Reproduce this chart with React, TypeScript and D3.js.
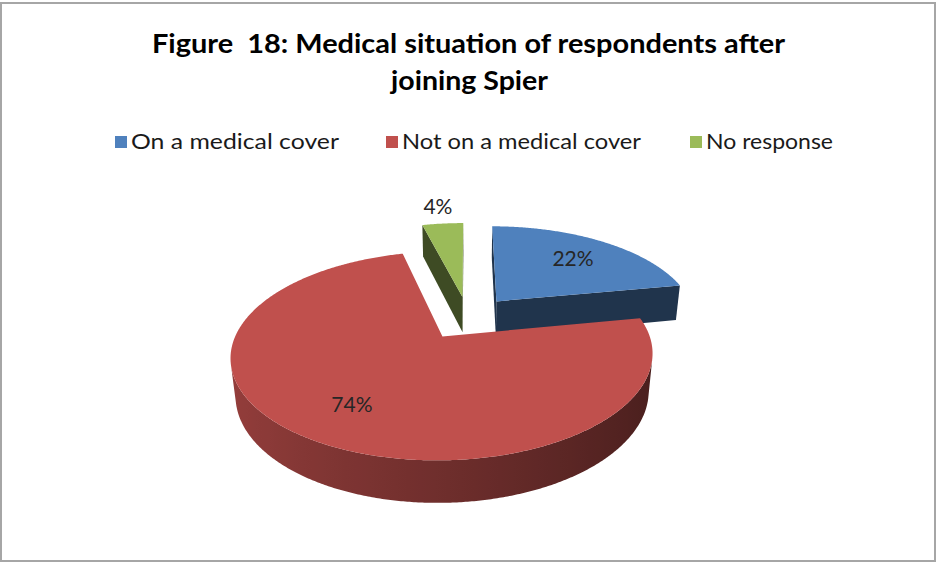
import React from "react";
import * as d3 from "d3";

const categories = ["On a medical cover", "Not on a medical cover", "No response"];
const values = [22, 74, 4];
const topColors = ["#4f81bd", "#c0504d", "#9bbb59"];
const titleLines = ["Figure  18: Medical situation of respondents after", "joining Spier"];

const W = 937;
const H = 563;

// camera / pie geometry (world units: pie radius = 1)
const cx = 468;
const cy = 317.5;
const S = 200;
const D = 4.9;
const theta = (28 * Math.PI) / 180;
const thick = 0.21;
const explode = 0.23;
const sinT = Math.sin(theta);
const cosT = Math.cos(theta);
const camera = [0, D * sinT, -D * cosT];

function project(x: number, y: number, z: number): [number, number] {
  const depth = D - y * sinT + z * cosT;
  return [cx + (S * D * x) / depth, cy - (S * D * (y * cosT + z * sinT)) / depth];
}

function visible(n: number[], p: number[]) {
  return n[0] * (camera[0] - p[0]) + n[1] * (camera[1] - p[1]) + n[2] * (camera[2] - p[2]) > 0;
}

function shade(color: string, k: number) {
  const c = d3.rgb(color);
  return d3.rgb(c.r * k, c.g * k, c.b * k).toString();
}

const poly = (pts: [number, number][]) =>
  "M" + pts.map((p) => p[0].toFixed(2) + "," + p[1].toFixed(2)).join("L") + "Z";

type Face = { d: string; fill: string; grad?: { id: string; x0: number; x1: number; stops: { o: number; c: string }[] } };

export default function App() {
  const pie = d3.pie<number>().sort(null).startAngle(0).endAngle(2 * Math.PI);
  const arcs = pie(values);

  const slices = arcs.map((a, i) => {
    const mid = (a.startAngle + a.endAngle) / 2;
    const ox = explode * Math.sin(mid);
    const oz = explode * Math.cos(mid);
    const rim = (ang: number, y: number) => [ox + Math.sin(ang), y, oz + Math.cos(ang)];
    const P = (p: number[]) => project(p[0], p[1], p[2]);
    const col = topColors[i];
    const faces: Face[] = [];

    // cut faces
    const a0 = a.startAngle;
    const a1 = a.endAngle;
    const cuts = [
      { ang: a0, n: [-Math.cos(a0), 0, Math.sin(a0)] },
      { ang: a1, n: [Math.cos(a1), 0, -Math.sin(a1)] },
    ];
    cuts.forEach((c) => {
      const r = rim(c.ang, 0);
      const pm = [(ox + r[0]) / 2, -thick / 2, (oz + r[2]) / 2];
      if (visible(c.n, pm)) {
        faces.push({
          d: poly([P([ox, 0, oz]), P(rim(c.ang, 0)), P(rim(c.ang, -thick)), P([ox, -thick, oz])]),
          fill: shade(col, 0.4),
        });
      }
    });

    // outer side: visible angular range, one path with a horizontal gradient
    const steps = Math.max(2, Math.ceil(((a1 - a0) * 180) / Math.PI) * 2);
    const vis: number[] = [];
    for (let s = 0; s <= steps; s++) {
      const t = a0 + ((a1 - a0) * s) / steps;
      const n = [Math.sin(t), 0, Math.cos(t)];
      if (visible(n, rim(t, -thick / 2))) vis.push(t);
    }
    if (vis.length > 1) {
      const topRim = vis.map((t) => P(rim(t, 0)));
      const botRim = vis.map((t) => P(rim(t, -thick))).reverse();
      const xs = topRim.map((p) => p[0]);
      const x0 = d3.min(xs)!;
      const x1 = d3.max(xs)!;
      const stops = vis
        .filter((_, k) => k % 6 === 0 || k === vis.length - 1)
        .map((t) => ({
          o: (P(rim(t, 0))[0] - x0) / (x1 - x0),
          c: shade(col, 0.58 - 0.2 * Math.sin(t)),
        }))
        .sort((p, q) => p.o - q.o);
      faces.push({
        d: poly([...topRim, ...botRim]),
        fill: "url(#side" + i + ")",
        grad: { id: "side" + i, x0, x1, stops },
      });
    }

    // top face
    const topPts: [number, number][] = [P([ox, 0, oz])];
    for (let s = 0; s <= steps; s++) {
      topPts.push(P(rim(a0 + ((a1 - a0) * s) / steps, 0)));
    }
    faces.push({ d: poly(topPts), fill: col });

    // label
    const small = a.data / d3.sum(values) < 0.05;
    const lr = small ? 1.3 : 0.7;
    const lp = project(ox + lr * Math.sin(mid), 0, oz + lr * Math.cos(mid));

    return { i, oz, faces, lp, label: Math.round(a.data) + "%" };
  });

  const ordered = [...slices].sort((p, q) => q.oz - p.oz);

  const legendX = [115, 386, 690];
  const legendLen = [208, 239, 127];

  return (
    <svg width={W} height={H} style={{ position: "absolute", left: 0, top: 0, background: "#fff" }}>
      <defs>
        {slices.flatMap((s) =>
          s.faces
            .filter((f) => f.grad)
            .map((f) => (
              <linearGradient key={f.grad!.id} id={f.grad!.id} gradientUnits="userSpaceOnUse" x1={f.grad!.x0} x2={f.grad!.x1} y1={0} y2={0}>
                {f.grad!.stops.map((st, k) => (
                  <stop key={k} offset={st.o} stopColor={st.c} />
                ))}
              </linearGradient>
            ))
        )}
      </defs>
      <rect x={1} y={3} width={934} height={558} fill="#fff" stroke="#a6a6a6" strokeWidth={2} />
      <g fontFamily="Lato, 'Open Sans', sans-serif" fontWeight="bold" fontSize={27} fill="#000" textAnchor="middle">
        <text x={468.5} y={53} textLength={633} lengthAdjust="spacingAndGlyphs" xmlSpace="preserve" style={{ whiteSpace: "pre" }}>
          {titleLines[0]}
        </text>
        <text x={469.5} y={90} textLength={157} lengthAdjust="spacingAndGlyphs">
          {titleLines[1]}
        </text>
      </g>
      <g fontFamily="Lato, 'Open Sans', sans-serif" fontSize={21} fill="#1a1a1a">
        {categories.map((c, i) => (
          <g key={c}>
            <rect x={legendX[i]} y={136} width={12} height={12} fill={topColors[i]} />
            <text x={legendX[i] + 16} y={149} textLength={legendLen[i]} lengthAdjust="spacingAndGlyphs">
              {c}
            </text>
          </g>
        ))}
      </g>
      {ordered.map((s) => (
        <g key={s.i}>
          {s.faces.map((f, j) => (
            <path key={j} d={f.d} fill={f.fill} />
          ))}
        </g>
      ))}
      {slices.map((s) => (
        <text
          key={"l" + s.i}
          x={s.lp[0]}
          y={s.lp[1]}
          textAnchor="middle"
          dominantBaseline="central"
          fontFamily="Lato, 'Open Sans', sans-serif"
          fontSize={21}
          fill="#262626"
        >
          {s.label}
        </text>
      ))}
    </svg>
  );
}
